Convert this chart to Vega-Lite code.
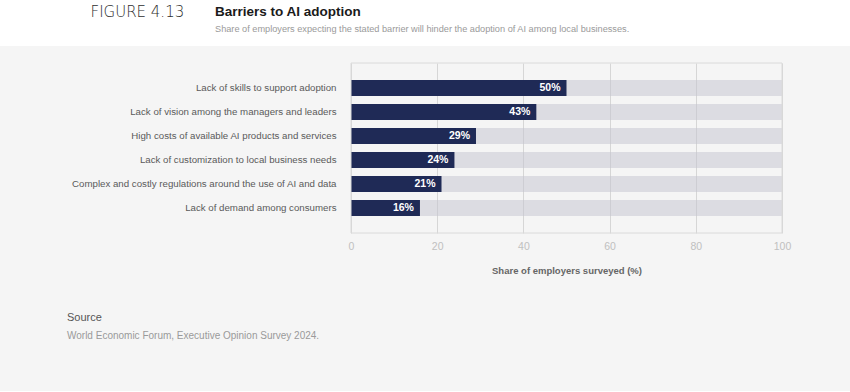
{
  "$schema": "https://vega.github.io/schema/vega-lite/v6.json",
  "background": "#f5f5f5",
  "padding": {"left": 0, "top": 0, "right": 0, "bottom": 50},
  "spacing": 16,
  "config": {
    "font": "Liberation Sans",
    "view": {"stroke": null},
    "axis": {"domain": false, "ticks": false}
  },
  "vconcat": [
    {
      "width": 850,
      "height": 46,
      "view": {"fill": "#ffffff", "stroke": null},
      "title": {
        "text": "Barriers to AI adoption",
        "subtitle": "Share of employers expecting the stated barrier will hinder the adoption of AI among local businesses.",
        "anchor": "start",
        "frame": "group",
        "dx": 215,
        "offset": -34,
        "fontSize": 13.5,
        "fontWeight": "bold",
        "color": "#1a1a1a",
        "subtitleFontSize": 9.2,
        "subtitleColor": "#9a9a9a",
        "subtitlePadding": 6
      },
      "data": {"values": [{"figure": "FIGURE 4.13"}]},
      "mark": {"type": "rule", "strokeOpacity": 0},
      "encoding": {
        "y": {
          "field": "figure",
          "type": "nominal",
          "axis": {
            "title": null,
            "grid": false,
            "offset": -90,
            "labelAlign": "left",
            "labelPadding": 0,
            "labelFont": "DejaVu Sans",
            "labelFontWeight": 200,
            "labelFontSize": 15,
            "labelColor": "#2e2e2e",
            "labelBaseline": "alphabetic",
            "labelOffset": -6,
            "labelLimit": 0
          }
        }
      }
    },
    {
      "width": 850,
      "height": 170,
      "title": {
        "text": "Source",
        "subtitle": "World Economic Forum, Executive Opinion Survey 2024.",
        "orient": "bottom",
        "anchor": "start",
        "frame": "group",
        "dx": 67,
        "offset": 37,
        "fontSize": 11,
        "fontWeight": "normal",
        "color": "#555555",
        "subtitleFontSize": 10,
        "subtitleColor": "#9a9a9a",
        "subtitlePadding": 8
      },
      "data": {
        "values": [
          {"barrier": "Lack of skills to support adoption", "value": 50},
          {"barrier": "Lack of vision among the managers and leaders", "value": 43},
          {"barrier": "High costs of available AI products and services", "value": 29},
          {"barrier": "Lack of customization to local business needs", "value": 24},
          {"barrier": "Complex and costly regulations around the use of AI and data", "value": 21},
          {"barrier": "Lack of demand among consumers", "value": 16}
        ]
      },
      "encoding": {
        "y": {
          "field": "barrier",
          "type": "nominal",
          "sort": null,
          "scale": {"paddingInner": 0.333, "paddingOuter": 0.708},
          "axis": {
            "title": null,
            "offset": -351,
            "labelPadding": 15,
            "labelFontSize": 9.7,
            "labelColor": "#5a5a5a",
            "labelLimit": 0
          }
        }
      },
      "layer": [
        {
          "mark": {"type": "bar", "color": "#c4c4d0", "opacity": 0.5},
          "encoding": {
            "x": {
              "datum": 100,
              "type": "quantitative",
              "scale": {"domain": [0, 100], "range": [351, 782]},
              "axis": {
                "values": [0, 20, 40, 60, 80, 100],
                "grid": true,
                "gridColor": "#d6d6d6",
                "labelColor": "#c0c0c0",
                "labelFontSize": 10.5,
                "labelPadding": 8,
                "labelFlush": false,
                "labelOverlap": false,
                "title": "Share of employers surveyed (%)",
                "titleX": 566.5,
                "titleFontSize": 9.5,
                "titleFontWeight": "bold",
                "titleColor": "#666666",
                "titlePadding": 14
              }
            }
          }
        },
        {
          "mark": {"type": "bar", "color": "#1f2a56"},
          "encoding": {"x": {"field": "value", "type": "quantitative"}}
        },
        {
          "mark": {
            "type": "text",
            "align": "right",
            "dx": -6,
            "color": "#ffffff",
            "fontWeight": "bold",
            "fontSize": 10.5,
            "text": {"expr": "datum.value + '%'"}
          },
          "encoding": {"x": {"field": "value", "type": "quantitative"}}
        },
        {
          "data": {"values": [{"frame": "plot"}]},
          "mark": {"type": "rect", "fill": null, "stroke": "#dadada", "strokeWidth": 1},
          "encoding": {
            "x": {"datum": 0, "type": "quantitative"},
            "x2": {"datum": 100},
            "y": null
          }
        }
      ]
    }
  ]
}
